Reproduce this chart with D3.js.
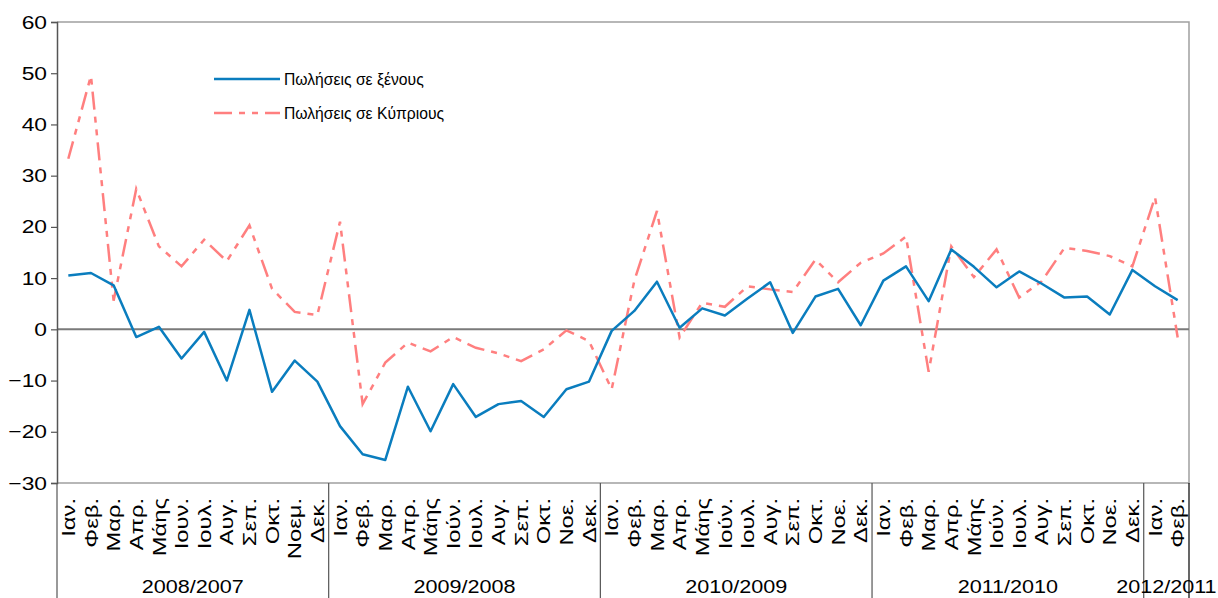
<!DOCTYPE html>
<html>
<head>
<meta charset="utf-8">
<script src="https://cdn.jsdelivr.net/npm/d3@7"></script>
<style>
  body { margin: 0; background: #fff; }
  text { font-family: "Liberation Sans", Arial, sans-serif; fill: #000; }
</style>
</head>
<body>
<svg width="1218" height="598"></svg>
<script>
// Month labels (x axis, lower level)
var months = [
  "Ιαν.","Φεβ.","Μαρ.","Απρ.","Μάης","Ιουν.","Ιουλ.","Αυγ.","Σεπ.","Οκτ.","Νοεμ.","Δεκ.",
  "Ιαν.","Φεβ.","Μαρ.","Απρ.","Μάης","Ιούν.","Ιουλ.","Αυγ.","Σεπ.","Οκτ.","Νοε.","Δεκ.",
  "Ιαν.","Φεβ.","Μαρ.","Απρ.","Μάης","Ιούν.","Ιουλ.","Αυγ.","Σεπ.","Οκτ.","Νοε.","Δεκ.",
  "Ιαν.","Φεβ.","Μαρ.","Απρ.","Μάης","Ιούν.","Ιουλ.","Αυγ.","Σεπ.","Οκτ.","Νοε.","Δεκ.",
  "Ιαν.","Φεβ."
];

// Year groups (x axis, upper level) and how many months each one holds
var groups = ["2008/2007","2009/2008","2010/2009","2011/2010","2012/2011"];
var groupSizes = [12, 12, 12, 12, 2];

// % change, sales to foreigners
var foreign = [
  10.5, 11.0, 8.6, -1.5, 0.5, -5.7, -0.5, -10.0, 3.8, -12.2, -6.1, -10.2,
  -18.9, -24.4, -25.5, -11.2, -19.9, -10.7, -17.1, -14.6, -14.0, -17.1, -11.7, -10.2,
  -0.3, 3.6, 9.3, 0.3, 4.1, 2.7, 6.0, 9.2, -0.7, 6.4, 7.9, 0.8,
  9.5, 12.3, 5.5, 15.6, 12.2, 8.2, 11.3, 8.9, 6.2, 6.4, 2.9, 11.6,
  8.4, 5.7
];

// % change, sales to Cypriots
var cypriot = [
  33.3, 49.5, 5.6, 27.4, 16.2, 12.3, 17.5, 13.3, 20.3, 7.9, 3.4, 2.8,
  21.0, -14.6, -6.5, -2.6, -4.3, -1.5, -3.6, -4.7, -6.2, -3.9, -0.2, -2.3,
  -11.7, 9.5, 23.1, -1.6, 5.2, 4.4, 8.4, 7.8, 7.3, 13.6, 9.2, 13.0,
  14.8, 18.1, -8.3, 16.2, 10.2, 15.6, 6.2, 9.4, 15.9, 15.3, 14.3, 12.3,
  25.8, -1.6
];

var yTicks = [-30, -20, -10, 0, 10, 20, 30, 40, 50, 60];
var seriesNames = ["Πωλήσεις σε ξένους", "Πωλήσεις σε Κύπριους"];

var svg = d3.select("svg");
var plotLeft = 57, plotRight = 1189, plotTop = 22, plotBottom = 483;

var x = d3.scaleBand()
    .domain(d3.range(months.length))
    .range([plotLeft, plotRight]);

var y = d3.scaleLinear()
    .domain([-30, 60])
    .range([plotBottom, plotTop]);

var blue = "#0a7dbe", red = "#ff7f7f";

// plot area border (top, right, bottom)
svg.append("path")
    .attr("d", "M" + plotLeft + "," + plotTop + "H" + plotRight + "V" + plotBottom + "H" + plotLeft)
    .attr("fill", "none")
    .attr("stroke", "#a0a0a0")
    .attr("stroke-width", 1.5);

// zero line
svg.append("line")
    .attr("x1", plotLeft).attr("x2", plotRight)
    .attr("y1", y(0)).attr("y2", y(0))
    .attr("stroke", "#7a7a7a")
    .attr("stroke-width", 2);

// y axis
var yAxis = svg.append("g")
    .attr("transform", "translate(" + plotLeft + ",0)")
    .call(d3.axisLeft(y).tickValues(yTicks).tickSize(6).tickPadding(4).tickFormat(d3.format("d")));
yAxis.select(".domain").attr("stroke", "#555").attr("stroke-width", 1.5);
yAxis.selectAll(".tick line").attr("stroke", "#555").attr("stroke-width", 1.2);
yAxis.selectAll(".tick text")
    .attr("font-size", 19)
    .attr("font-family", "Liberation Sans, Arial, sans-serif")
    .attr("fill", "#000")
    .each(function() {
      var t = d3.select(this);
      var tx = +t.attr("x");
      t.attr("x", null)
       .attr("transform", "translate(" + tx + ",0) scale(1.2,1)");
    });

// group separators below the plot
var bounds = [0];
groupSizes.forEach(function(n, i) { bounds.push(bounds[i] + n); });

function edge(k) { return k === months.length ? plotRight : x(k); }

svg.selectAll(".sep")
    .data(bounds)
    .enter().append("line")
      .attr("class", "sep")
      .attr("x1", edge)
      .attr("x2", edge)
      .attr("y1", plotBottom)
      .attr("y2", 598)
      .attr("stroke", function(d, i) { return i === bounds.length - 1 ? "#000" : "#555"; })
      .attr("stroke-width", 1.2);

// month labels, rotated
svg.selectAll(".month")
    .data(months)
    .enter().append("text")
      .attr("class", "month")
      .attr("transform", function(d, i) {
        return "translate(" + (x(i) + x.bandwidth() / 2) + "," + 498 + ") rotate(-90) scale(1.25,1)";
      })
      .attr("dy", "0.35em")
      .attr("text-anchor", "end")
      .attr("font-size", 19)
      .text(function(d) { return d; });

// year labels
svg.selectAll(".group")
    .data(groups)
    .enter().append("text")
      .attr("class", "group")
      .attr("transform", function(d, i) {
        var cx = (edge(bounds[i]) + edge(bounds[i + 1])) / 2;
        return "translate(" + cx + ",593) scale(1.2,1)";
      })
      .attr("text-anchor", "middle")
      .attr("font-size", 18)
      .text(function(d) { return d; });

// lines
var line = d3.line()
    .x(function(d, i) { return x(i) + x.bandwidth() / 2; })
    .y(function(d) { return y(d); });

var dash = "18,7,6,7,6,7";

svg.append("path")
    .datum(cypriot)
    .attr("fill", "none")
    .attr("stroke", red)
    .attr("stroke-width", 2.5)
    .attr("stroke-dasharray", dash)
    .attr("d", line);

svg.append("path")
    .datum(foreign)
    .attr("fill", "none")
    .attr("stroke", blue)
    .attr("stroke-width", 2.5)
    .attr("stroke-linejoin", "round")
    .attr("d", line);

// legend
var legend = svg.append("g").attr("transform", "translate(214,79)");
var legendRows = legend.selectAll("g")
    .data(seriesNames)
    .enter().append("g")
      .attr("transform", function(d, i) { return "translate(0," + (i * 34) + ")"; });

legendRows.append("line")
    .attr("x1", 0).attr("x2", 66)
    .attr("stroke", function(d, i) { return i === 0 ? blue : red; })
    .attr("stroke-width", 2.5)
    .attr("stroke-dasharray", function(d, i) { return i === 0 ? null : dash; });

legendRows.append("text")
    .attr("x", 70)
    .attr("dy", "0.35em")
    .attr("font-size", 15.7)
    .text(function(d) { return d; });
</script>
</body>
</html>
